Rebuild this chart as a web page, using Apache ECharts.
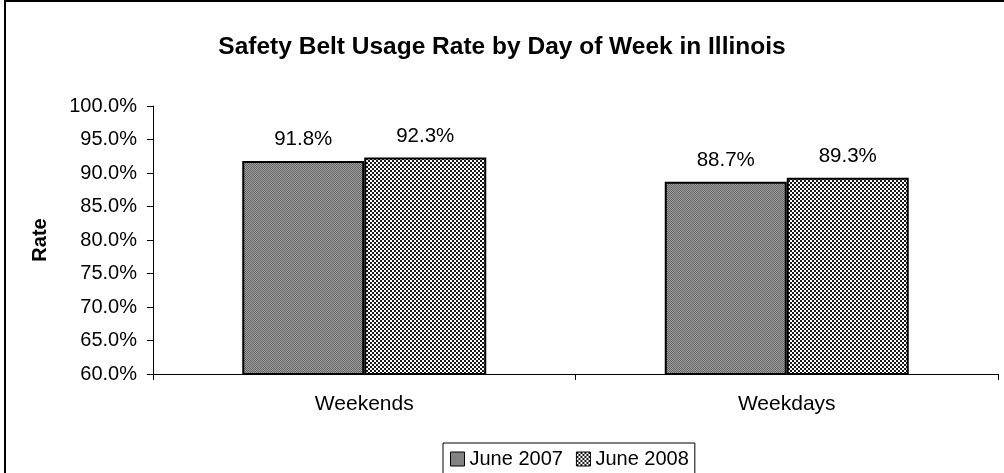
<!DOCTYPE html>
<html>
<head>
<meta charset="utf-8">
<script src="https://cdn.jsdelivr.net/npm/echarts@6/dist/echarts.min.js"></script>
<style>
html,body{margin:0;padding:0;background:#fff;}
#chart{width:1004px;height:473px;}
</style>
</head>
<body>
<div id="chart"></div>
<script>
var categories = ['Weekends', 'Weekdays'];
var seriesNames = ['June 2007', 'June 2008'];
var june2007 = [91.8, 88.7];
var june2008 = [92.3, 89.3];
var yTicks = [60, 65, 70, 75, 80, 85, 90, 95, 100];

function makePattern(c1, c2, cell) {
  var cv = document.createElement('canvas');
  cv.width = cell * 2; cv.height = cell * 2;
  var ctx = cv.getContext('2d');
  ctx.fillStyle = c1; ctx.fillRect(0, 0, cell * 2, cell * 2);
  ctx.fillStyle = c2;
  ctx.fillRect(0, 0, cell, cell);
  ctx.fillRect(cell, cell, cell, cell);
  return { image: cv, repeat: 'repeat' };
}
var pat2007 = makePattern('#9a9a9a', '#6a6a6a', 1);
var pat2008 = makePattern('#ffffff', '#1a1a1a', 2);

var font = 'Liberation Sans, Arial, sans-serif';
var chart = echarts.init(document.getElementById('chart'), null, { renderer: 'canvas' });
var labelCfg = {
  show: true, position: 'top', distance: 11, color: '#000', fontSize: 20.5, fontFamily: font,
  formatter: function (p) { return p.value.toFixed(1) + '%'; }
};
chart.setOption({
  animation: false,
  backgroundColor: '#fff',
  title: {
    text: 'Safety Belt Usage Rate by Day of Week in Illinois',
    left: 'center', top: 30,
    textStyle: { fontFamily: font, fontSize: 24.5, fontWeight: 'bold', color: '#000' }
  },
  graphic: [{
    type: 'rect', shape: { x: 5, y: 1, width: 1100, height: 600 },
    style: { fill: 'none', stroke: '#000', lineWidth: 2 }, silent: true, z: 100
  }],
  legend: {
    bottom: -12, left: 443,
    data: seriesNames,
    icon: 'rect',
    itemWidth: 14, itemHeight: 14, itemGap: 13,
    padding: [6, 6, 16, 7],
    borderColor: '#000', borderWidth: 1,
    textStyle: { fontFamily: font, fontSize: 20, color: '#000' },
    itemStyle: { borderColor: '#000', borderWidth: 1 }
  },
  grid: { left: 153, right: 6, top: 106, bottom: 99, containLabel: false },
  xAxis: {
    type: 'category', data: categories,
    axisLine: { lineStyle: { color: '#000', width: 1 } },
    axisTick: { show: true, length: 6, lineStyle: { color: '#000' }, alignWithLabel: false },
    axisLabel: { fontFamily: font, fontSize: 21, color: '#000', margin: 20 }
  },
  yAxis: {
    type: 'value', min: 60, max: 100, interval: 5,
    name: 'Rate', nameLocation: 'middle', nameGap: 103, nameRotate: 90,
    nameTextStyle: { fontFamily: font, fontSize: 20, fontWeight: 'bold', color: '#000' },
    axisLine: { show: true, lineStyle: { color: '#000' } },
    axisTick: { show: true, length: 6, lineStyle: { color: '#000' } },
    splitLine: { show: false },
    axisLabel: {
      fontFamily: font, fontSize: 20, color: '#000', margin: 16,
      formatter: function (v) { return yTicks.indexOf(v) >= 0 ? v.toFixed(1) + '%' : ''; }
    }
  },
  series: [
    { name: seriesNames[0], type: 'bar', data: june2007, barWidth: 122, barGap: '0%',
      itemStyle: { color: pat2007, borderColor: '#000', borderWidth: 2 }, label: labelCfg },
    { name: seriesNames[1], type: 'bar', data: june2008, barWidth: 122, barGap: '0%',
      itemStyle: { color: pat2008, borderColor: '#000', borderWidth: 2 }, label: labelCfg }
  ]
});
</script>
</body>
</html>
